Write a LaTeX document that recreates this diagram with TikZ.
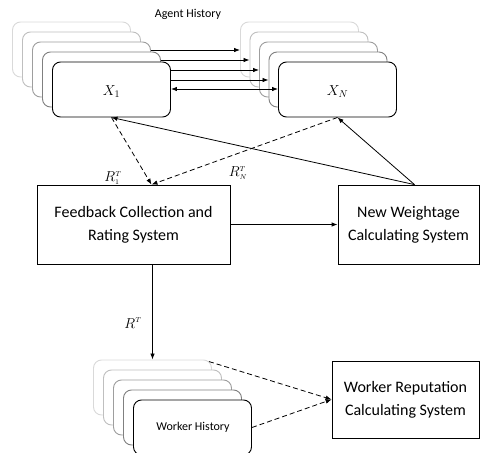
\documentclass[tikz,border=0pt]{standalone}
\usepackage{fontspec}
\setsansfont{Carlito}
\usetikzlibrary{arrows.meta,calc}
\tikzset{
myLayer/.style={
	draw, rectangle, rounded corners=8pt, fill=white,
	line width=0.9pt, minimum width=118pt, minimum height=55pt,
	inner sep=0pt, text=black
}
, myBox/.style={
	draw, rectangle, fill=white, line width=0.8pt,
	align=center, inner sep=0pt,
	font=\sffamily\fontsize{16}{23}\selectfont
}
, myTitle/.style={font=\sffamily\fontsize{12}{14}\selectfont}
, myLabel/.style={font=\fontsize{14}{16}\selectfont, inner sep=0pt}
% links
, myLink/.style={-{Latex[length=6pt,width=4.5pt]}, line width=0.8pt}
, myBoth/.style={{Latex[length=6pt,width=4.5pt]}-{Latex[length=6pt,width=4.5pt]}, line width=0.8pt}
, myFeed/.style={myLink, dash pattern=on 5pt off 3pt}
}

\begin{document}
\begin{tikzpicture}[x=1pt,y=-1pt]
	\useasboundingbox (0,0) rectangle (480,453);
	% stacks
	\foreach \k/\c in {4/15,3/25,2/38,1/50,0/100} {
		\node[myLayer, draw=black!\c] (L\k) at (111.5-10*\k, 89.5-10*\k) {};
		\node[myLayer, draw=black!\c] (R\k) at (337.5-9.5*\k, 89.5-10*\k) {};
		\node[myLayer, draw=black!\c] (W\k) at (192.5-10*\k, 427.5-10*\k) {};
	}
	\node[myLabel] (X1) at ([yshift=-2pt]L0) {$X_1$};
	\node[myLabel] (XN) at ([yshift=-2pt]R0) {$X_N$};
	\node[myTitle] (Agent) at (188,14) {Agent History};
	\node[myTitle] (Worker) at (193,427) {Worker History};

	% boxes
	\node[myBox, minimum width=193pt, minimum height=79pt] (Feedback) at (133.5,224.5)
		{Feedback Collection and\\Rating System};
	\node[myBox, minimum width=141pt, minimum height=79pt] (Weightage) at (408.5,224.5)
		{New Weightage\\Calculating System};
	\node[myBox, minimum width=147pt, minimum height=77pt] (Reputation) at (405.5,399.5)
		{Worker Reputation\\Calculating System};

	% labels
	\node[myLabel] (LabOne) at (113,178) {$R^{\scriptscriptstyle T}_{\scriptscriptstyle 1}$};
	\node[myLabel] (LabN) at (238,173) {$R^{\scriptscriptstyle T}_{\scriptscriptstyle N}$};
	\node[myLabel] (LabT) at (133,323) {$R^{\scriptscriptstyle T}$};

	% links between histories
	\draw[myLink] (L2.east |- 0,50) -- (R4.west |- 0,50);
	\draw[myLink] (L1.east |- 0,60) -- (R3.west |- 0,60);
	\draw[myLink] (L0.east |- 0,70) -- (R2.west |- 0,70);
	\draw[myLink] (L0.east |- 0,80) -- (R1.west |- 0,80);
	\draw[myBoth] (L0.east |- 0,89) -- (R0.west |- 0,89);

	% ratings
	\draw[myFeed] (L0.south) -- ([xshift=18pt]Feedback.north);
	\draw[myFeed] (R0.south) -- ([xshift=18pt]Feedback.north);
	\draw[myLink] ([xshift=6pt]Weightage.north) -- (L0.south);
	\draw[myLink] ([xshift=6pt]Weightage.north) -- (R0.south);
	\draw[myLink] (Feedback.east) -- (Weightage.west);
	\draw[myLink] (Feedback.south -| W4.north) -- (W4.north);

	% reputation
	\draw[myFeed] ([xshift=-3pt,yshift=-2pt]W4.north east) -- (Reputation.west);
	\draw[myFeed] (W0.east) -- (Reputation.west);
\end{tikzpicture}
\end{document}
